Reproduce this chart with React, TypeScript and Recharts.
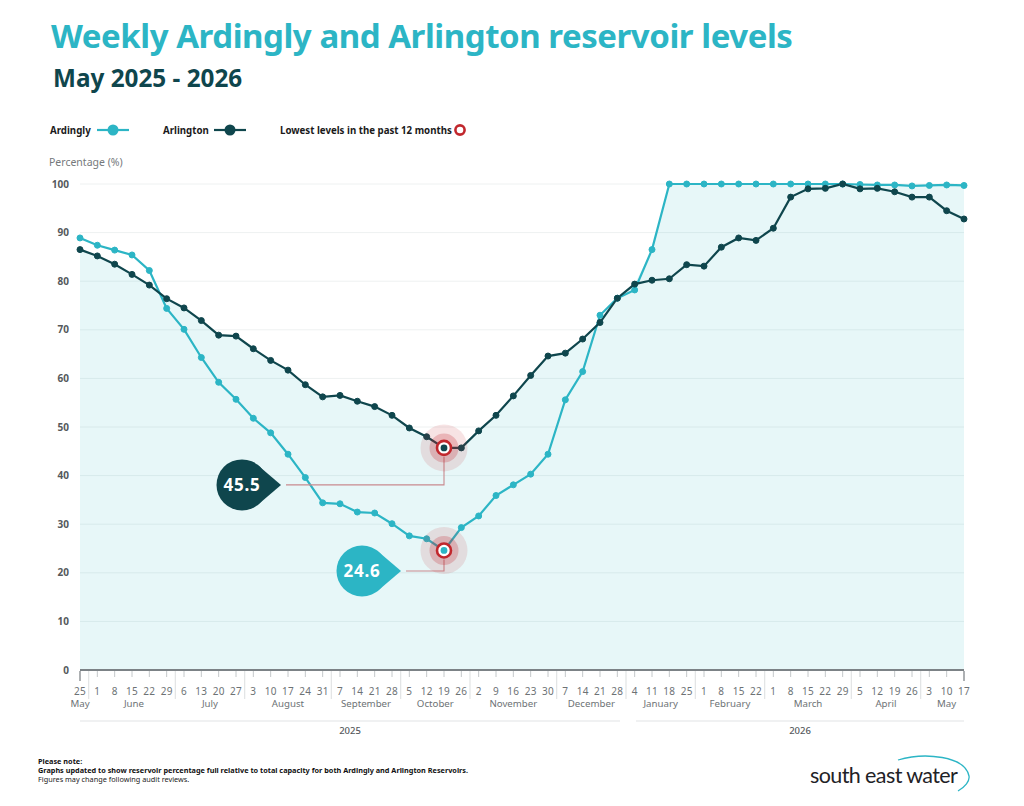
import React from "react";
import { ComposedChart, Area, Line, XAxis, YAxis, CartesianGrid, ReferenceDot } from "recharts";

const FONT = '"Noto Sans", sans-serif';
const TEAL = "#2cb5c5";
const DARK = "#0f464d";
const RED = "#c1272d";

const days = [25,1,8,15,22,29,6,13,20,27,3,10,17,24,31,7,14,21,28,5,12,19,26,2,9,16,23,30,7,14,21,28,4,11,18,25,1,8,15,22,1,8,15,22,29,5,12,19,26,3,10,17];
const ardingly = [88.9,87.4,86.4,85.4,82.2,74.4,70.1,64.3,59.2,55.7,51.8,48.8,44.4,39.6,34.4,34.2,32.5,32.3,30.1,27.6,27.0,24.6,29.3,31.7,35.9,38.1,40.3,44.4,55.6,61.4,73.0,76.5,78.2,86.5,100,100,100,100,100,100,100,100,100,100,100,99.9,99.8,99.8,99.6,99.7,99.8,99.7];
const arlington = [86.5,85.2,83.5,81.4,79.2,76.4,74.5,71.9,68.9,68.7,66.1,63.7,61.7,58.7,56.2,56.5,55.3,54.2,52.4,49.8,48.0,45.7,45.7,49.2,52.4,56.4,60.6,64.6,65.2,68.1,71.5,76.5,79.4,80.2,80.5,83.4,83.1,87.0,88.9,88.4,90.9,97.3,99.0,99.1,100,99.0,99.1,98.4,97.3,97.3,94.5,92.8];
const months = [
  { label: "May", first: 0, last: 0 },
  { label: "June", first: 1, last: 5 },
  { label: "July", first: 6, last: 9 },
  { label: "August", first: 10, last: 14 },
  { label: "September", first: 15, last: 18 },
  { label: "October", first: 19, last: 22 },
  { label: "November", first: 23, last: 27 },
  { label: "December", first: 28, last: 31 },
  { label: "January", first: 32, last: 35 },
  { label: "February", first: 36, last: 39 },
  { label: "March", first: 40, last: 44 },
  { label: "April", first: 45, last: 48 },
  { label: "May", first: 49, last: 51 },
];
const yTicks = [0,10,20,30,40,50,60,70,80,90,100];
const lowIndex = 21;
const lowArdingly = "24.6";
const lowArlington = "45.5";
const fillSwitchIndex = 33;

const rows = days.map((day, idx) => ({
  idx,
  day,
  ardingly: ardingly[idx],
  arlington: arlington[idx],
  fillTop: idx < fillSwitchIndex ? arlington[idx] : Math.max(arlington[idx], ardingly[idx]),
}));

const W = 1024;
const H = 806;
const LEFT = 80;
const RIGHT = 964;
const STEP = (RIGHT - LEFT) / (days.length - 1);

function DayTick(props: any) {
  const { x, y, payload } = props;
  const i = payload.value as number;
  const edge = i === 0 || i === days.length - 1;
  const m = months.find((mm) => mm.first === i);
  return (
    <g fontFamily={FONT}>
      <line x1={x} x2={x} y1={y + 1} y2={y + (edge ? 11 : 7)} stroke={edge ? "#8a8f92" : "#c4c8ca"} strokeWidth={edge ? 1.4 : 1} />
      <text x={x} y={y + 25} textAnchor="middle" fontSize={10} fill="#6d7275" letterSpacing={0.3}>{days[i]}</text>
      {m && (
        <text x={x + ((m.last - m.first) / 2) * STEP + (m.label === "June" ? 2 : 0)} y={y + 37} textAnchor="middle" fontSize={9.7} fill="#6d7275">{m.label}</text>
      )}
      {m && i > 0 && (
        <line x1={x - STEP / 2} x2={x - STEP / 2} y1={y + 1} y2={y + 29} stroke="#e2e4e5" strokeWidth={1.2} />
      )}
      {i === days.length - 1 && (
        <g>
          <line x1={LEFT} x2={620} y1={y + 51} y2={y + 51} stroke="#e2e4e5" strokeWidth={1.2} />
          <line x1={636} x2={RIGHT} y1={y + 51} y2={y + 51} stroke="#e2e4e5" strokeWidth={1.2} />
          <text x={350} y={y + 64} textAnchor="middle" fontSize={9.5} fontWeight={500} fill="#55595c">2025</text>
          <text x={800} y={y + 64} textAnchor="middle" fontSize={9.5} fontWeight={500} fill="#55595c">2026</text>
        </g>
      )}
    </g>
  );
}

function LowMark(props: any) {
  const { cx, cy, color } = props;
  return (
    <g>
      <circle cx={cx} cy={cy} r={23.5} fill={RED} fillOpacity={0.13} />
      <circle cx={cx} cy={cy} r={14.5} fill={RED} fillOpacity={0.24} />
      <circle cx={cx} cy={cy} r={7} fill="#fff" stroke={RED} strokeWidth={2.6} />
      <circle cx={cx} cy={cy} r={3.4} fill={color} />
    </g>
  );
}

function Callout(props: any) {
  const { cx, cy, color, drop, reach, text } = props;
  const ly = cy + drop;
  const lx = cx - reach;
  const tip = lx - 5;
  const bx = tip - 39;
  return (
    <g>
      <polyline points={`${cx},${cy + 9} ${cx},${ly} ${lx},${ly}`} fill="none" stroke="#c98a8e" strokeWidth={1.1} />
      <circle cx={bx} cy={ly} r={25.5} fill={color} />
      <path d={`M ${bx + 15} ${ly - 20.5} L ${tip} ${ly} L ${bx + 15} ${ly + 20.5} Z`} fill={color} />
      <text x={bx} y={ly + 6} textAnchor="middle" fontFamily={FONT} fontSize={17} fontWeight={700} fill="#fff" letterSpacing={0.8}>{text}</text>
    </g>
  );
}

const abs = (left: number, top: number, extra: React.CSSProperties = {}): React.CSSProperties => ({
  position: "absolute",
  left,
  top,
  fontFamily: FONT,
  whiteSpace: "nowrap",
  lineHeight: 1,
  ...extra,
});

function LegendMark({ left, color }: { left: number; color: string }) {
  return (
    <svg style={{ position: "absolute", left, top: 122 }} width={34} height={16}>
      <line x1={1} x2={33} y1={8} y2={8} stroke={color} strokeWidth={2.2} />
      <circle cx={17} cy={8} r={5.5} fill={color} />
    </svg>
  );
}

export default function App() {
  return (
    <div style={{ position: "absolute", left: 0, top: 0, width: W, height: H, background: "#fff", overflow: "hidden" }}>
      <div style={abs(51, 19, { fontSize: 33, fontWeight: 700, color: TEAL, letterSpacing: -0.45 })}>Weekly Ardingly and Arlington reservoir levels</div>
      <div style={abs(53, 66, { fontSize: 24.3, fontWeight: 700, color: DARK })}>May 2025 - 2026</div>

      <div style={abs(50, 126, { fontSize: 9.7, fontWeight: 700, color: "#1a1a1a" })}>Ardingly</div>
      <LegendMark left={96} color={TEAL} />
      <div style={abs(163, 126, { fontSize: 9.7, fontWeight: 700, color: "#1a1a1a" })}>Arlington</div>
      <LegendMark left={213} color={DARK} />
      <div style={abs(280, 126, { fontSize: 9.7, fontWeight: 700, color: "#1a1a1a" })}>Lowest levels in the past 12 months</div>
      <svg style={{ position: "absolute", left: 452, top: 122 }} width={16} height={16}>
        <circle cx={8} cy={8} r={4.6} fill="#fff" stroke={RED} strokeWidth={2.6} />
      </svg>
      <div style={abs(49, 157, { fontSize: 10.5, color: "#75797c" })}>Percentage (%)</div>

      <div style={{ position: "absolute", left: 0, top: 0 }}>
        <ComposedChart width={W} height={H} data={rows} margin={{ top: 184, right: W - RIGHT, bottom: 0, left: 50 }}>
          <CartesianGrid horizontal vertical={false} stroke="#eef1f1" strokeWidth={1} />
          <XAxis
            dataKey="idx"
            scale="point"
            padding={{ left: 0, right: 0 }}
            interval={0}
            height={136}
            tickLine={false}
            tickSize={0}
            tickMargin={0}
            axisLine={{ stroke: "#7c8286", strokeWidth: 2 }}
            tick={<DayTick />}
          />
          <YAxis
            domain={[0, 100]}
            ticks={yTicks}
            width={30}
            tickLine={false}
            axisLine={false}
            tickSize={0}
            tickMargin={11}
            tick={{ fill: "#55595c", fontSize: 10, fontWeight: 700, fontFamily: FONT }}
          />
          <Area dataKey="fillTop" type="linear" stroke="none" fill={TEAL} fillOpacity={0.115} isAnimationActive={false} dot={false} activeDot={false} />
          <Line dataKey="ardingly" type="linear" stroke={TEAL} strokeWidth={2.2} dot={{ r: 3, fill: TEAL, stroke: TEAL, strokeWidth: 1 }} isAnimationActive={false} />
          <Line dataKey="arlington" type="linear" stroke={DARK} strokeWidth={2.2} dot={{ r: 3, fill: DARK, stroke: DARK, strokeWidth: 1 }} isAnimationActive={false} />
          <ReferenceDot x={lowIndex} y={ardingly[lowIndex]} shape={(p: any) => <Callout {...p} color={TEAL} drop={20.5} reach={38} text={lowArdingly} />} />
          <ReferenceDot x={lowIndex} y={arlington[lowIndex]} shape={(p: any) => <Callout {...p} color={DARK} drop={37} reach={158} text={lowArlington} />} />
          <ReferenceDot x={lowIndex} y={ardingly[lowIndex]} shape={(p: any) => <LowMark {...p} color={TEAL} />} />
          <ReferenceDot x={lowIndex} y={arlington[lowIndex]} shape={(p: any) => <LowMark {...p} color={DARK} />} />
        </ComposedChart>
      </div>

      <div style={abs(38, 758, { fontSize: 7.3, fontWeight: 700, color: "#111" })}>Please note:</div>
      <div style={abs(38, 767, { fontSize: 7.3, fontWeight: 700, color: "#111" })}>Graphs updated to show reservoir percentage full relative to total capacity for both Ardingly and Arlington Reservoirs.</div>
      <div style={abs(38, 776, { fontSize: 7.3, color: "#222" })}>Figures may change following audit reviews.</div>

      <div style={abs(810, 765, { fontSize: 21.5, color: "#1f2226", letterSpacing: -0.6, fontFamily: '"Lato", sans-serif' })}>south east water</div>
      <svg style={{ position: "absolute", left: 880, top: 750 }} width={100} height={50}>
        <path d="M 18 10 C 45 2, 85 6, 89 26 C 90 31, 85 37, 78 41" fill="none" stroke={TEAL} strokeWidth={1.3} />
      </svg>
    </div>
  );
}
